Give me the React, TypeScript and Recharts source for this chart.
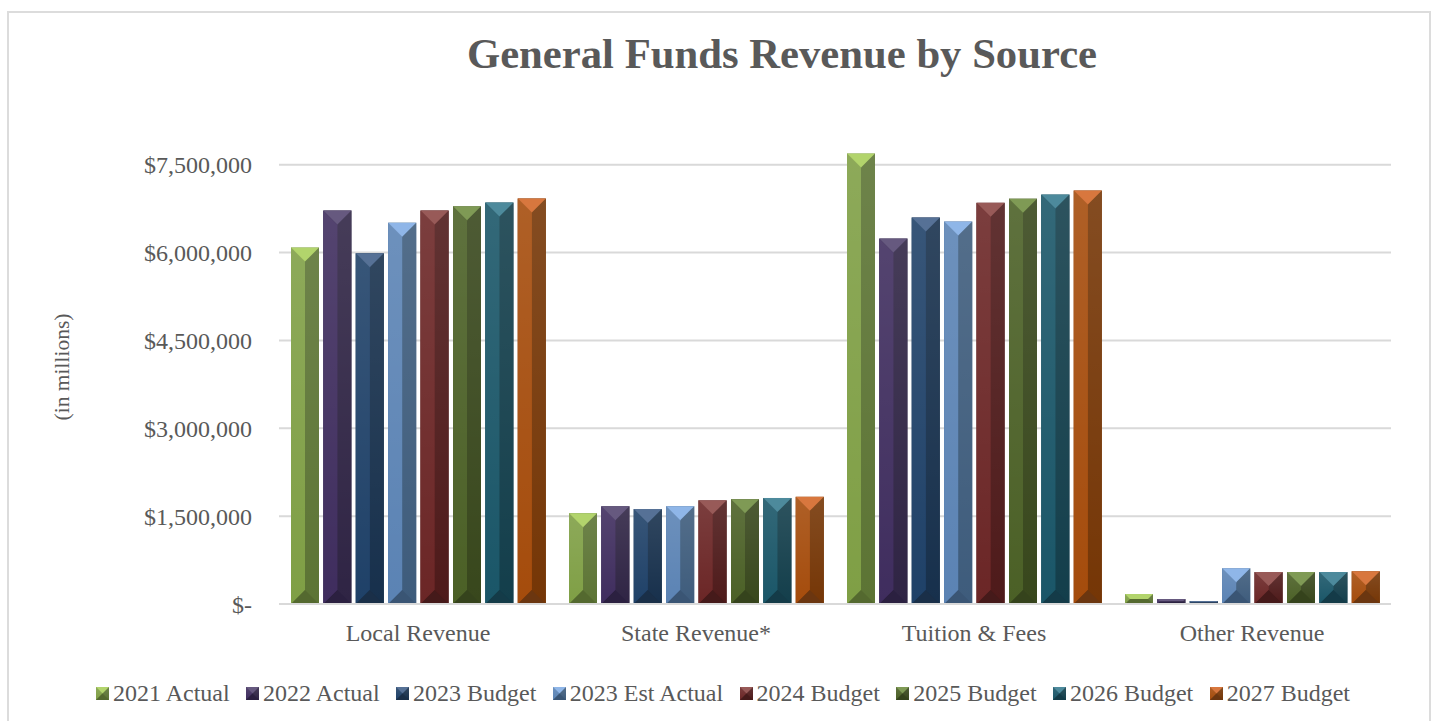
import { BarChart, Bar, XAxis, YAxis, CartesianGrid, Legend } from "recharts"

const categories = ["Local Revenue", "State Revenue*", "Tuition & Fees", "Other Revenue"]
const seriesNames = ["2021 Actual", "2022 Actual", "2023 Budget", "2023 Est Actual", "2024 Budget", "2025 Budget", "2026 Budget", "2027 Budget"]

const actual2021 = [6085000, 1550000, 7690000, 170000]
const actual2022 = [6720000, 1670000, 6240000, 85000]
const budget2023 = [5990000, 1620000, 6600000, 50000]
const estActual2023 = [6510000, 1670000, 6530000, 610000]
const budget2024 = [6720000, 1770000, 6850000, 545000]
const budget2025 = [6790000, 1790000, 6920000, 545000]
const budget2026 = [6855000, 1810000, 6990000, 545000]
const budget2027 = [6925000, 1830000, 7060000, 560000]

const seriesValues = [actual2021, actual2022, budget2023, estActual2023, budget2024, budget2025, budget2026, budget2027]
const yTicks = [0, 1500000, 3000000, 4500000, 6000000, 7500000]

// top, left, right, bottom face colours
const faces = [
    ["#b2d46c", "#7f9f45", "#5c7434", "#54692f"],
    ["#66597f", "#3f2d5e", "#2f2444", "#2b2040"],
    ["#567196", "#1f4168", "#17304c", "#1a2f48"],
    ["#8fb6e8", "#5b83b4", "#3e5c7c", "#3a5574"],
    ["#985a58", "#6b2626", "#4e1a1a", "#451a1a"],
    ["#7f9a55", "#4b6026", "#38471c", "#35431c"],
    ["#4d8a9c", "#1a5668", "#133e4b", "#143b48"],
    ["#d8773e", "#a54c0c", "#753606", "#6b3610"],
]

const data = categories.map((name, i) => {
    const row: Record<string, string | number> = { name }
    seriesNames.forEach((s, j) => { row[s] = seriesValues[j][i] })
    return row
})

const formatMoney = (v: number) => (v === 0 ? "$-" : "$" + v.toLocaleString("en-US"))

function Bevel({ x, y, width, height, colors, depth }: any) {
    if (!height || height <= 0) return null
    const d = Math.min(depth, height / 2, width / 2)
    const l = x, r = x + width, t = y, b = y + height
    const il = l + d, ir = r - d, it = t + d, ib = b - d
    const side = `${l},${t} ${il},${it} ${il},${ib} ${l},${b}`
    const other = `${r},${t} ${ir},${it} ${ir},${ib} ${r},${b}`
    return (
        <g>
            <rect x={l} y={t} width={width} height={height} fill={colors[2]} />
            <polygon points={`${l},${t} ${(l + r) / 2},${it} ${(l + r) / 2},${ib} ${l},${b}`} fill={colors[1]} />
            <polygon points={other} fill={colors[2]} />
            <polygon points={side} fill={colors[1]} />
            <rect x={l} y={t} width={width} height={height} fill="url(#barSheen)" />
            <polygon points={`${l},${t} ${r},${t} ${ir},${it} ${il},${it}`} fill={colors[0]} />
            <polygon points={`${l},${b} ${r},${b} ${ir},${ib} ${il},${ib}`} fill={colors[3]} />
        </g>
    )
}

function LegendRow() {
    return (
        <div style={{ display: "flex", justifyContent: "center", alignItems: "center", fontFamily: "'Liberation Serif', serif", fontSize: 24, color: "#595959", whiteSpace: "nowrap" }}>
            {seriesNames.map((s, i) => (
                <span key={s} style={{ display: "inline-flex", alignItems: "center", marginRight: i < seriesNames.length - 1 ? 16.4 : 0 }}>
                    <svg width={13} height={13} style={{ marginRight: 4 }}>
                        <Bevel x={0} y={0} width={13} height={13} colors={faces[i]} depth={6.5} />
                    </svg>
                    {s}
                </span>
            ))}
        </div>
    )
}

export default function App() {
    return (
        <div style={{ position: "absolute", left: 0, top: 0, width: 1437, height: 721, background: "#fff", overflow: "hidden" }}>
            <div style={{ position: "absolute", left: 7, top: 11, width: 1424, height: 730, border: "2px solid #dcdcdc", boxSizing: "border-box" }} />
            <div style={{ position: "absolute", left: 0, top: 26, width: 1564, textAlign: "center", fontFamily: "'Liberation Serif', serif", fontWeight: 700, fontSize: 42.7, lineHeight: "56px", color: "#595959" }}>
                General Funds Revenue by Source
            </div>
            <div style={{ position: "absolute", left: 0, top: 0 }}>
                <BarChart
                    width={1437}
                    height={721}
                    data={data}
                    margin={{ top: 153, right: 46, bottom: 60, left: 0 }}
                    barCategoryGap={12}
                    barGap={4.4}
                >
                    <defs>
                        <linearGradient id="barSheen" x1="0" y1="0" x2="0" y2="1">
                            <stop offset="0" stopColor="#fff" stopOpacity={0.11} />
                            <stop offset="1" stopColor="#fff" stopOpacity={0} />
                        </linearGradient>
                    </defs>
                    <CartesianGrid vertical={false} stroke="#d9d9d9" strokeWidth={2} syncWithTicks />
                    <XAxis
                        dataKey="name"
                        axisLine={{ stroke: "#d9d9d9", strokeWidth: 2 }}
                        tickLine={false}
                        tickMargin={14}
                        tick={{ fontFamily: "'Liberation Serif', serif", fontSize: 24, fill: "#595959", stroke: "none" }}
                    />
                    <YAxis
                        width={279}
                        domain={[0, 7700000]}
                        ticks={yTicks}
                        tickFormatter={formatMoney}
                        axisLine={false}
                        tickLine={false}
                        tickMargin={21}
                        tick={{ fontFamily: "'Liberation Serif', serif", fontSize: 24, fill: "#595959", stroke: "none" }}
                    />
                    <Legend content={<LegendRow />} verticalAlign="bottom" wrapperStyle={{ left: 0, width: 1446, bottom: 14 }} />
                    {seriesNames.map((s, i) => (
                        <Bar
                            key={s}
                            dataKey={s}
                            isAnimationActive={false}
                            fill={faces[i][1]}
                            style={{ filter: "drop-shadow(0 0 2.5px rgba(0,0,0,0.45))" }}
                            shape={(p: any) => <Bevel x={p.x} y={p.y} width={p.width} height={p.height} colors={faces[i]} depth={14} />}
                        />
                    ))}
                </BarChart>
            </div>
            <div style={{ position: "absolute", left: 62, top: 367, transform: "translate(-50%,-50%) rotate(-90deg)", fontFamily: "'Liberation Serif', serif", fontSize: 21.5, color: "#595959", whiteSpace: "nowrap" }}>
                (in millions)
            </div>
        </div>
    )
}
